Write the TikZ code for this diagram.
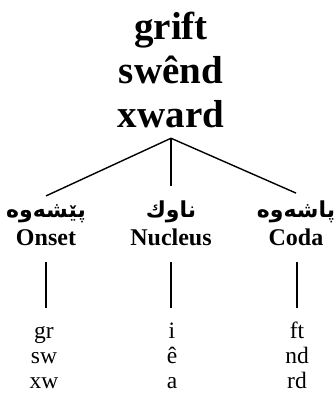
\documentclass[tikz,border=0pt]{standalone}
\usepackage{fontspec}
\setmainfont{Liberation Serif}
\TeXXeTstate=1
\newfontfamily\arabicfont[Script=Arabic]{DejaVu Sans}
\begin{document}
\begin{tikzpicture}[x=1pt,y=-1pt,
  title/.style={font=\fontsize{39}{44}\selectfont\bfseries, align=center, inner sep=0pt},
  kurd/.style={font=\arabicfont\fontsize{22}{26}\selectfont\bfseries, inner sep=0pt, anchor=base},
  role/.style={font=\fontsize{24}{28}\selectfont\bfseries, inner sep=0pt, anchor=base},
  segs/.style={font=\fontsize{23.5}{25}\selectfont, align=center, inner sep=0pt, anchor=base},
  branch/.style={line width=1.4pt},
  stem/.style={line width=1.4pt, shorten <=17pt, shorten >=12.5pt},
]
\useasboundingbox (0,0) rectangle (335,398);

% the word being split
\node[title, anchor=north] (root) at (171,12) {grift\\swênd\\xward};
\coordinate (apex) at ([yshift=-10pt]root.south);

% syllable parts, Sorani name above English name
\node[kurd] (onsetAr) at (46,217) {\beginR پێشەوە\endR};
\node[kurd] (nucAr)   at (171,217) {\beginR ناوك\endR};
\node[kurd] (codaAr)  at (296,217) {\beginR پاشەوە\endR};
\node[role] (onset)   at (46,245) {Onset};
\node[role] (nuc)     at (171,245) {Nucleus};
\node[role] (coda)    at (296,245) {Coda};

% the pieces of each word (anchored on the last line)
\node[segs] (onsetSeg) at (44,388) {\strut gr\\sw\\xw};
\node[segs] (nucSeg)   at (172,388) {\strut i\\ê\\a};
\node[segs] (codaSeg)  at (297,388) {\strut ft\\nd\\rd};

\draw[branch] (apex) -- ([yshift=8pt]onsetAr.north);
\draw[branch] (apex) -- ([yshift=14pt]nucAr.north);
\draw[branch] (apex) -- ([yshift=7pt]codaAr.north);

\draw[stem] (onset.south) -- (onset.south |- onsetSeg.north);
\draw[stem] (nuc.south) -- (nuc.south |- nucSeg.north);
\draw[stem] ([xshift=1pt]coda.south) -- ([xshift=1pt]coda.south |- codaSeg.north);
\end{tikzpicture}
\end{document}
